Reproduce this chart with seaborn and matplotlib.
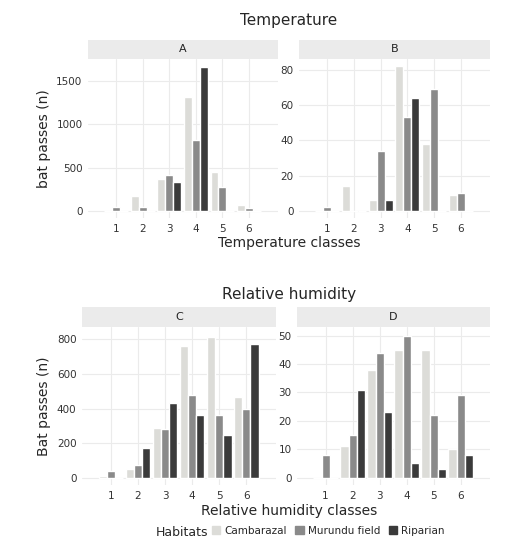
import matplotlib
matplotlib.use("Agg")
import matplotlib.pyplot as plt
import seaborn as sns
import pandas as pd

classes = ["1", "2", "3", "4", "5", "6"]
habitats = ["Cambarazal", "Murundu field", "Riparian"]
colors = ["#dcdcd8", "#8a8a8a", "#3a3a3a"]

a_cam = [0, 175, 370, 1310, 455, 75]
a_mur = [50, 50, 410, 820, 280, 40]
a_rip = [0, 0, 340, 1655, 0, 0]
b_cam = [0, 14, 6, 82, 38, 9]
b_mur = [2, 0, 34, 53, 69, 10]
b_rip = [0, 0, 6, 64, 0, 0]
c_cam = [10, 50, 290, 760, 815, 465]
c_mur = [40, 75, 285, 480, 365, 400]
c_rip = [0, 175, 435, 365, 250, 770]
d_cam = [0, 11, 38, 45, 45, 10]
d_mur = [8, 15, 44, 50, 22, 29]
d_rip = [0, 31, 23, 5, 3, 8]


def make_df(cam, mur, rip):
    rows = []
    for h, vals in zip(habitats, [cam, mur, rip]):
        for c, v in zip(classes, vals):
            rows.append({"cls": c, "hab": h, "n": v})
    return pd.DataFrame(rows)


sns.set_theme(style="white")
plt.rcParams["font.family"] = ["DejaVu Sans"]
W, H = 532, 557
fig = plt.figure(figsize=(W / 100, H / 100), dpi=100)


def panel(x0, x1, ys, ye, yb, data, label, ticks, ylabel=None):
    # strip axes on top
    sax = fig.add_axes([x0 / W, 1 - ye / H, (x1 - x0) / W, (ye - ys) / H])
    sax.set_facecolor("#ebebeb")
    sax.set_xticks([]); sax.set_yticks([])
    for s in sax.spines.values():
        s.set_visible(False)
    sax.text(0.5, 0.5, label, ha="center", va="center", fontsize=8, color="#222222")
    ax = fig.add_axes([x0 / W, 1 - yb / H, (x1 - x0) / W, (yb - ye) / H])
    sns.barplot(data=data, x="cls", y="n", hue="hab", hue_order=habitats,
                palette=colors, width=0.9, ax=ax, legend=False, saturation=1)
    ax.set_xlim(-1.06, 6.09)
    ax.set_yticks(ticks)
    ax.grid(True, color="#ebebeb", linewidth=0.8)
    ax.set_axisbelow(True)
    for s in ax.spines.values():
        s.set_visible(False)
    ax.tick_params(labelsize=7.5, length=2, colors="#333333", pad=2)
    ax.set_xlabel("")
    ax.set_ylabel(ylabel if ylabel else "", fontsize=10)
    return ax


axA = panel(88, 278, 40, 59, 218, make_df(a_cam, a_mur, a_rip), "A", [0, 500, 1000, 1500], "bat passes (n)")
axA.set_ylim(-80, 1750)
axB = panel(299, 490, 40, 59, 218, make_df(b_cam, b_mur, b_rip), "B", [0, 20, 40, 60, 80])
axB.set_ylim(-4, 86)
axC = panel(82, 276, 307, 327, 485, make_df(c_cam, c_mur, c_rip), "C", [0, 200, 400, 600, 800], "Bat passes (n)")
axC.set_ylim(-40, 870)
axD = panel(297, 490, 307, 327, 485, make_df(d_cam, d_mur, d_rip), "D", [0, 10, 20, 30, 40, 50])
axD.set_ylim(-2.6, 53)

fig.text(289 / W, 1 - 20 / H, "Temperature", ha="center", va="center", fontsize=11)
fig.text(289 / W, 1 - 243 / H, "Temperature classes", ha="center", va="center", fontsize=10)
fig.text(289 / W, 1 - 294 / H, "Relative humidity", ha="center", va="center", fontsize=11)
fig.text(289 / W, 1 - 511 / H, "Relative humidity classes", ha="center", va="center", fontsize=10)

handles = [plt.Rectangle((0, 0), 1, 1, color=c) for c in colors]
fig.legend(handles, habitats, loc="center left", bbox_to_anchor=(212 / W, 1 - 531 / H),
           ncol=3, frameon=False, fontsize=7.5, handlelength=0.8,
           handleheight=0.8, handletextpad=0.4, columnspacing=0.8,
           borderaxespad=0, borderpad=0)
fig.text(208 / W, 1 - 532 / H, "Habitats", ha="right", va="center", fontsize=9)

fig.savefig("out.png", dpi=100, facecolor="white")
